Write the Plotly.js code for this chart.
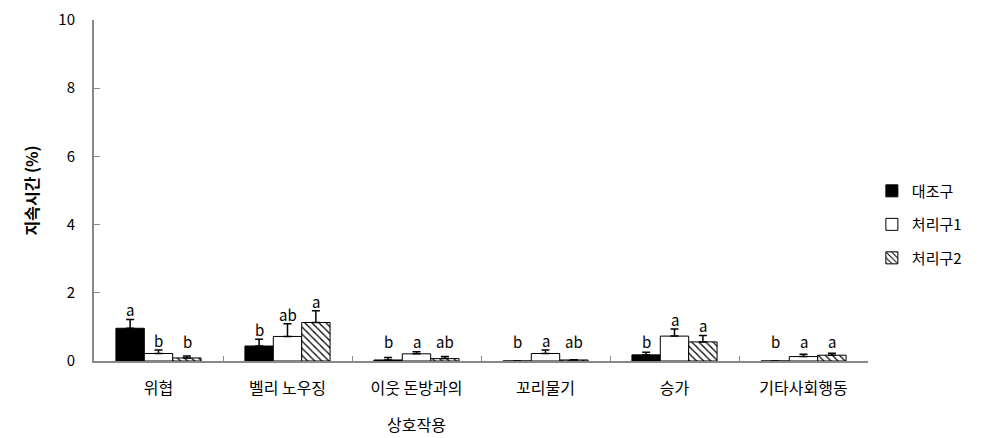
<!DOCTYPE html>
<html><head><meta charset="utf-8">
<script src="https://cdn.plot.ly/plotly-3.0.1.min.js"></script>
<style>body{margin:0;background:#fff}</style>
</head><body>
<div id="chart" style="width:1007px;height:438px"></div>
<script>
const categories = ["위협", "벨리 노우징", "이웃 돈방과의|상호작용", "꼬리물기", "승가", "기타사회행동"];
const seriesNames = ["대조구", "처리구1", "처리구2"];
const control = [0.96, 0.44, 0.03, 0.0, 0.18, 0.0];
const controlErr = [0.26, 0.20, 0.07, 0.0, 0.08, 0.0];
const treat1 = [0.22, 0.72, 0.21, 0.22, 0.73, 0.13];
const treat1Err = [0.10, 0.37, 0.06, 0.10, 0.21, 0.07];
const treat2 = [0.09, 1.13, 0.07, 0.03, 0.56, 0.17];
const treat2Err = [0.06, 0.34, 0.06, 0.01, 0.19, 0.06];
const controlLetters = ["a", "b", "b", "b", "b", "b"];
const treat1Letters = ["b", "ab", "a", "a", "a", "a"];
const treat2Letters = ["b", "a", "ab", "ab", "a", "a"];
const yTicks = [0, 2, 4, 6, 8, 10];

const font = "Noto Sans CJK KR, Noto Sans, sans-serif";
function errBar(arr){return {type:'data', symmetric:false, array:arr, arrayminus:arr.map(()=>0), color:'#000', thickness:1.5, width:4, visible:true};}
const traces = [
 {type:'bar', name:seriesNames[0], legendgroup:'g0', x:categories, y:control, error_y:errBar(controlErr),
  marker:{color:'#000', line:{color:'#000', width:1}}},
 {type:'bar', name:seriesNames[1], legendgroup:'g1', x:categories, y:treat1, error_y:errBar(treat1Err),
  marker:{color:'#fff', line:{color:'#000', width:1}}},
 {type:'bar', name:seriesNames[2], legendgroup:'g2', x:categories, y:treat2, error_y:errBar(treat2Err),
  marker:{color:'#fff', line:{color:'#000', width:1}, pattern:{shape:'\\', fgcolor:'#000', bgcolor:'#fff', size:5, solidity:0.25}}}
];
const annotations = [];
const sets = [[control, controlErr, controlLetters, 0], [treat1, treat1Err, treat1Letters, 1], [treat2, treat2Err, treat2Letters, 2]];
sets.forEach(([v, e, l, k]) => {
  categories.forEach((c, i) => {
    const top = v[i] + e[i];
    annotations.push({x:c, y:Math.max(top, 0.3), xref:'x', yref:'y', text:l[i], showarrow:false,
      yanchor:'bottom', yshift:-3, xshift:(k-1)*28.5, font:{family:font, size:15, color:'#000'}});
  });
});
// second lines of two-line category labels
categories.forEach(c => {
  const parts = c.split('|');
  if (parts.length > 1) {
    annotations.push({x:c, y:0, xref:'x', yref:'y', text:parts[1], showarrow:false,
      yanchor:'middle', yshift:-63, font:{family:font, size:16, color:'#000'}});
  }
});
const layout = {
  width:1007, height:438,
  margin:{l:94, r:139, t:20, b:77},
  paper_bgcolor:'#fff', plot_bgcolor:'#fff',
  barmode:'group', bargap:0.34, bargroupgap:0,
  showlegend:true,
  legend:{x:1.005, y:0.4, xanchor:'left', yanchor:'middle', font:{family:font, size:15, color:'#000'}, tracegroupgap:11, itemwidth:30, traceorder:'grouped'},
  xaxis:{type:'category', showline:true, linecolor:'#888', linewidth:2, ticks:'inside', tickson:'boundaries', ticklen:5, tickcolor:'#888',
    tickvals:categories, ticktext:categories.map(c => c.split('|')[0]), ticklabelstandoff:12,
    tickfont:{family:font, size:16, color:'#000'}, showgrid:false, zeroline:false},
  yaxis:{range:[0,10], tickvals:yTicks, ticktext:yTicks.map(String), showline:true, linecolor:'#888', linewidth:2, ticks:'inside', ticklen:6, tickcolor:'#888',
    tickfont:{family:font, size:15, color:'#000'}, showgrid:false, zeroline:false, ticklabelstandoff:14,
    title:{text:'<b>지속시간 (%)</b>', font:{family:font, size:16, color:'#000'}, standoff:16}},
  annotations:annotations
};
Plotly.newPlot('chart', traces, layout, {displayModeBar:false});
</script>
</body></html>
